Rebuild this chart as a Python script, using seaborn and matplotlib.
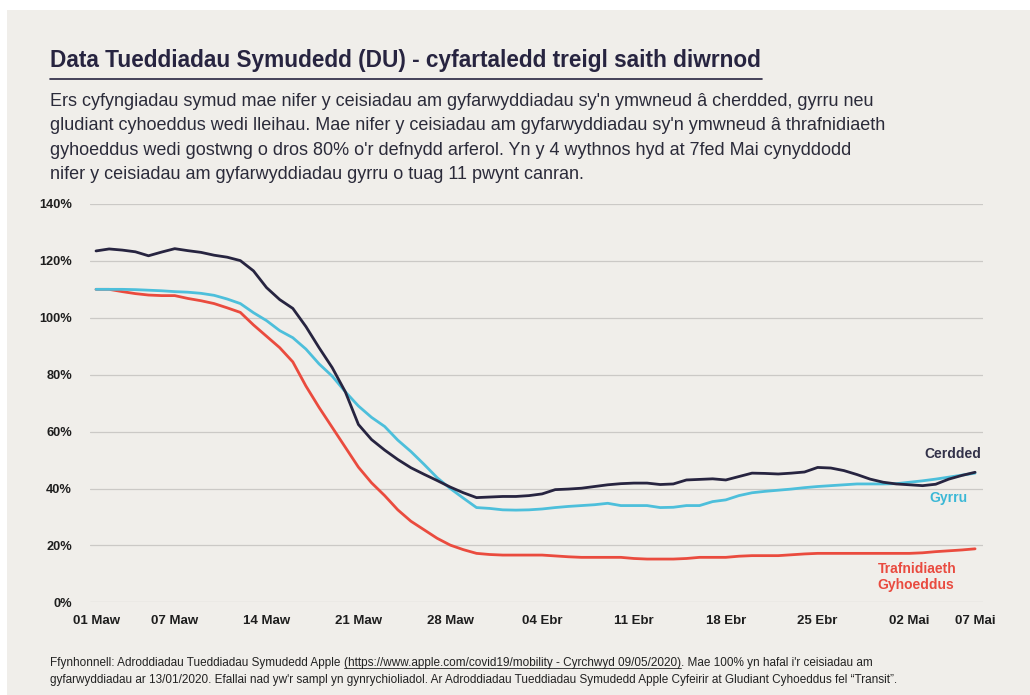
import matplotlib
matplotlib.use("Agg")
import matplotlib.pyplot as plt
from matplotlib.patches import Rectangle
from matplotlib.lines import Line2D
import seaborn as sns
import pandas as pd
import numpy as np

# ---------------- data ----------------
start_date = "2020-03-01"
n_days = 68

cerdded = [123.5, 124.2, 123.8, 123.2, 121.8, 123.1, 124.3, 123.6, 123.0, 122.0,
           121.3, 120.1, 116.5, 110.6, 106.4, 103.3, 96.9, 89.5, 82.5, 74.0,
           62.5, 57.2, 53.5, 50.2, 47.3, 45.0, 42.8, 40.5, 38.5, 36.8,
           37.0, 37.2, 37.2, 37.5, 38.1, 39.6, 39.8, 40.1, 40.7, 41.3,
           41.7, 41.9, 41.9, 41.4, 41.6, 43.0, 43.2, 43.4, 43.0, 44.2,
           45.4, 45.3, 45.1, 45.4, 45.8, 47.4, 47.2, 46.3, 44.9, 43.3,
           42.2, 41.6, 41.3, 41.0, 41.5, 43.3, 44.6, 45.7]

gyrru = [110.0, 110.0, 110.0, 109.9, 109.7, 109.5, 109.2, 109.0, 108.6, 107.9,
         106.6, 105.0, 101.8, 99.0, 95.5, 93.0, 89.0, 83.8, 79.5, 74.0,
         69.0, 65.0, 61.8, 57.0, 53.0, 48.5, 43.8, 40.0, 36.6, 33.3,
         33.0, 32.5, 32.4, 32.5, 32.8, 33.3, 33.7, 34.0, 34.3, 34.8,
         34.0, 34.0, 34.0, 33.3, 33.4, 34.0, 34.0, 35.4, 36.0, 37.5,
         38.5, 39.0, 39.4, 39.8, 40.3, 40.7, 41.0, 41.3, 41.6, 41.6,
         41.6, 41.7, 42.2, 42.7, 43.3, 44.0, 44.7, 45.4]

trafnidiaeth = [110.0, 110.0, 109.2, 108.5, 108.0, 107.8, 107.8, 106.8, 106.0, 105.0,
                103.5, 101.9, 97.5, 93.5, 89.5, 84.5, 76.0, 68.5, 61.5, 54.5,
                47.5, 42.0, 37.5, 32.5, 28.5, 25.5, 22.5, 20.1, 18.5, 17.2,
                16.8, 16.6, 16.6, 16.6, 16.6, 16.3, 16.0, 15.8, 15.8, 15.8,
                15.8, 15.4, 15.2, 15.2, 15.2, 15.4, 15.8, 15.8, 15.8, 16.2,
                16.4, 16.4, 16.4, 16.7, 17.0, 17.2, 17.2, 17.2, 17.2, 17.2,
                17.2, 17.2, 17.2, 17.4, 17.8, 18.1, 18.4, 18.8]

tick_dates = ["2020-03-01", "2020-03-07", "2020-03-14", "2020-03-21", "2020-03-28",
              "2020-04-04", "2020-04-11", "2020-04-18", "2020-04-25", "2020-05-02",
              "2020-05-07"]
tick_labels = ["01 Maw", "07 Maw", "14 Maw", "21 Maw", "28 Maw", "04 Ebr",
               "11 Ebr", "18 Ebr", "25 Ebr", "02 Mai", "07 Mai"]
y_ticks = [0, 20, 40, 60, 80, 100, 120, 140]
y_labels = ["0%", "20%", "40%", "60%", "80%", "100%", "120%", "140%"]

series_names = ["Cerdded", "Gyrru", "Trafnidiaeth\nGyhoeddus"]

title = "Data Tueddiadau Symudedd (DU) - cyfartaledd treigl saith diwrnod"
subtitle = ("Ers cyfyngiadau symud mae nifer y ceisiadau am gyfarwyddiadau sy'n ymwneud â cherdded, gyrru neu\n"
            "gludiant cyhoeddus wedi lleihau. Mae nifer y ceisiadau am gyfarwyddiadau sy'n ymwneud â thrafnidiaeth\n"
            "gyhoeddus wedi gostwng o dros 80% o'r defnydd arferol. Yn y 4 wythnos hyd at 7fed Mai cynyddodd\n"
            "nifer y ceisiadau am gyfarwyddiadau gyrru o tuag 11 pwynt canran.")
footer1_a = "Ffynhonnell: Adroddiadau Tueddiadau Symudedd Apple "
footer1_b = "(https://www.apple.com/covid19/mobility - Cyrchwyd 09/05/2020)"
footer1_c = ". Mae 100% yn hafal i'r ceisiadau am"
footer2 = ("gyfarwyddiadau ar 13/01/2020. Efallai nad yw'r sampl yn gynrychioliadol. "
           "Ar Adroddiadau Tueddiadau Symudedd Apple Cyfeirir at Gludiant Cyhoeddus fel \u201cTransit\u201d.")

# ---------------- styling ----------------
BG = "#f0eeea"
NAVY = "#272440"
CYAN = "#4dbfdb"
RED = "#ea4b3e"
TEXT = "#2b2b3a"

sns.set_theme(style="white")
plt.rcParams["font.family"] = ["Liberation Sans", "DejaVu Sans"]

dates = pd.date_range(start_date, periods=n_days, freq="D")
df = pd.DataFrame({
    "date": np.tile(dates, 3),
    "value": cerdded + gyrru + trafnidiaeth,
    "series": np.repeat(series_names, n_days),
})

W, H = 1030, 695
fig = plt.figure(figsize=(W / 100, H / 100), dpi=100, facecolor="white")
fig.patches.append(Rectangle((7 / W, 0), 1 - 7 / W, 1 - 10 / H, transform=fig.transFigure,
                             facecolor=BG, edgecolor="none", zorder=-10))

ax = fig.add_axes([90 / W, 1 - 602.3 / H, (983 - 90) / W, (602.3 - 204) / H])
ax.set_facecolor(BG)
ax.patch.set_alpha(0)

sns.lineplot(data=df, x="date", y="value", hue="series",
             palette={series_names[0]: NAVY, series_names[1]: CYAN, series_names[2]: RED},
             hue_order=[series_names[2], series_names[1], series_names[0]],
             linewidth=2.0, legend=False, ax=ax)

x0 = dates[0] - pd.Timedelta(hours=11)
x1 = dates[-1] + pd.Timedelta(hours=14.5)
ax.set_xlim(x0, x1)
ax.set_ylim(0, 140)
ax.set_yticks(y_ticks)
ax.set_yticklabels(y_labels)
ax.set_xticks(pd.to_datetime(tick_dates))
ax.set_xticklabels(tick_labels)
ax.set_xlabel("")
ax.set_ylabel("")
for s in ax.spines.values():
    s.set_visible(False)
ax.grid(axis="y", color="#cbc9c6", linewidth=0.9)
ax.grid(axis="x", visible=False)
ax.set_axisbelow(True)
ax.tick_params(axis="y", length=0, pad=13, labelsize=9.2, labelcolor="#1e1e1e")
ax.tick_params(axis="x", length=0, pad=9, labelsize=9.5, labelcolor="#1e1e1e")
for lab in ax.get_xticklabels() + ax.get_yticklabels():
    lab.set_fontweight("bold")

# series labels
ax.text(0.998, 0.372, "Cerdded", transform=ax.transAxes, ha="right", va="center",
        fontsize=10, fontweight="bold", color="#33324a")
ax.text(0.983, 0.262, "Gyrru", transform=ax.transAxes, ha="right", va="center",
        fontsize=10, fontweight="bold", color="#3bb8d6")
ax.text(0.882, 0.0635, "Trafnidiaeth\nGyhoeddus", transform=ax.transAxes, ha="left", va="center",
        fontsize=10, fontweight="bold", color="#e94a3f", linespacing=1.15)

# title + rule
fig.text(50 / W, 1 - 60 / H, title, ha="left", va="center", fontsize=16.3,
         fontweight="bold", color=NAVY)
fig.add_artist(Line2D([50 / W, 762 / W], [1 - 79 / H, 1 - 79 / H], transform=fig.transFigure,
                      color=NAVY, linewidth=1.2))

fig.text(50 / W, 1 - 93 / H, subtitle, ha="left", va="top", fontsize=13,
         color=TEXT, linespacing=1.56)

# footer with underlined link
renderer = fig.canvas.get_renderer()
FS = 8.45
fy1 = 1 - 663 / H
t_a = fig.text(50 / W, fy1, footer1_a, ha="left", va="center", fontsize=FS, color="#222222")
bb_a = t_a.get_window_extent(renderer)
t_b = fig.text(bb_a.x1 / W, fy1, footer1_b, ha="left", va="center", fontsize=FS, color="#222222")
bb_b = t_b.get_window_extent(renderer)
fig.add_artist(Line2D([bb_b.x0 / W, bb_b.x1 / W], [(bb_b.y0 + 1) / H] * 2,
                      transform=fig.transFigure, color="#222222", linewidth=0.6))
fig.text(bb_b.x1 / W, fy1, footer1_c, ha="left", va="center", fontsize=FS, color="#222222")
fig.text(50 / W, 1 - 680 / H, footer2, ha="left", va="center", fontsize=FS, color="#222222")

fig.savefig("out.png", dpi=100, facecolor="white")
